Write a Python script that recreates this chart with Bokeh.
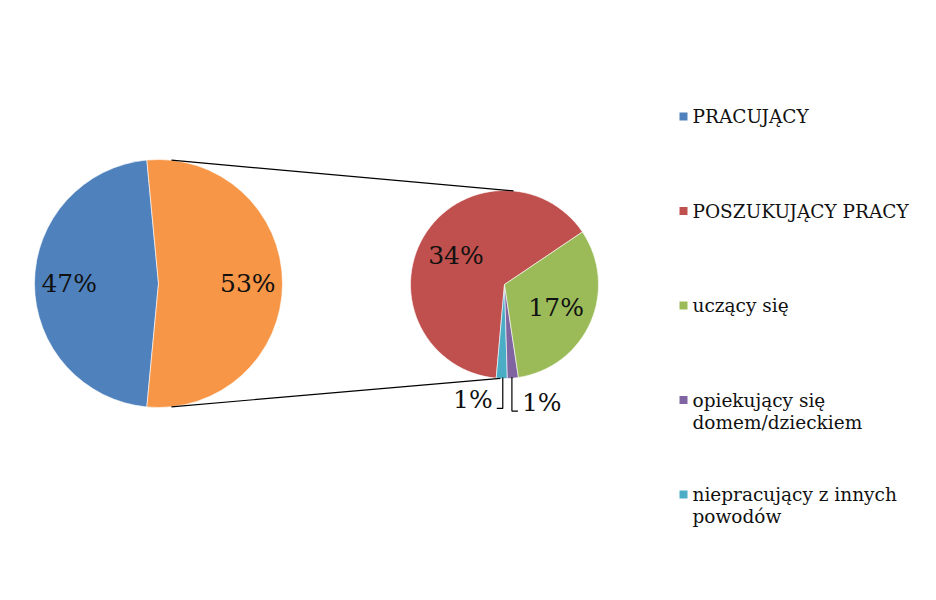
import numpy as np
from bokeh.plotting import figure
from bokeh.models import Range1d
from bokeh.embed import file_html
from bokeh.resources import INLINE
from bokeh.core.properties import value

# ---------------- data ----------------
main_labels = ["PRACUJĄCY", "NIEPRACUJĄCY"]
main_values = [47, 53]
main_colors = ["#4F81BD", "#F79646"]

sub_labels = ["POSZUKUJĄCY PRACY", "niepracujący z innych powodów",
              "opiekujący się domem/dzieckiem", "uczący się"]
sub_values = [34, 1, 1, 17]
sub_colors = ["#C0504D", "#4BACC6", "#8064A2", "#9BBB59"]

legend_lines = [["PRACUJĄCY"], ["POSZUKUJĄCY PRACY"], ["uczący się"],
                ["opiekujący się", "domem/dzieckiem"],
                ["niepracujący z innych", "powodów"]]
legend_colors = ["#4F81BD", "#C0504D", "#9BBB59", "#8064A2", "#4BACC6"]

# ---------------- layout ----------------
W, H = 920, 584
FONT = "DejaVu Serif"
p = figure(width=W, height=H, output_backend="svg", toolbar_location=None,
           x_range=Range1d(0, W), y_range=Range1d(0, H), min_border=0)
p.axis.visible = False
p.grid.visible = False
p.outline_line_color = None
p.background_fill_color = "white"

# left pie
c1 = (158, 301); r1 = 124
other_frac = main_values[1] / sum(main_values)
half = other_frac * np.pi
starts1 = [half, -half]
ends1 = [2 * np.pi - half, half]
p.wedge(x=[c1[0]] * 2, y=[c1[1]] * 2, radius=r1, start_angle=starts1, end_angle=ends1,
        fill_color=main_colors, line_color="white", line_width=0.6)
mids1 = [np.pi, 0.0]
p.text(x=[c1[0] + 0.72 * r1 * np.cos(a) for a in mids1],
       y=[c1[1] + 0.72 * r1 * np.sin(a) for a in mids1],
       text=[f"{v}%" for v in main_values], text_align="center", text_baseline="middle",
       text_font=value(FONT), text_font_size="25px", text_color="#111111")

# right pie
c2 = (504, 300); r2 = 94
start0 = np.deg2rad(34)
tot = sum(sub_values)
angs = start0 + np.concatenate([[0], np.cumsum(sub_values)]) / tot * 2 * np.pi
p.wedge(x=[c2[0]] * 4, y=[c2[1]] * 4, radius=r2, start_angle=angs[:-1], end_angle=angs[1:],
        fill_color=sub_colors, line_color="white", line_width=0.6)
mids2 = (angs[:-1] + angs[1:]) / 2

# connector lines
a_l, a_r_top, a_r_bot = np.deg2rad(84), np.deg2rad(84.5), np.deg2rad(-92.5)
p.line([c1[0] + r1 * np.cos(a_l), c2[0] + r2 * np.cos(a_r_top)],
       [c1[1] + r1 * np.sin(a_l), c2[1] + r2 * np.sin(a_r_top)], line_color="black", line_width=1.2)
p.line([c1[0] + r1 * np.cos(-a_l), c2[0] + r2 * np.cos(a_r_bot)],
       [c1[1] + r1 * np.sin(-a_l), c2[1] + r2 * np.sin(a_r_bot)], line_color="black", line_width=1.2)

# big labels in right pie
big = [0, 3]
p.text(x=[c2[0] + 0.6 * r2 * np.cos(mids2[i]) for i in big],
       y=[c2[1] + 0.6 * r2 * np.sin(mids2[i]) for i in big],
       text=[f"{sub_values[i]}%" for i in big], text_align="center", text_baseline="middle",
       text_font=value(FONT), text_font_size="25px", text_color="#111111")

# small labels with leader lines
for i, side, drop in [(1, -1, 31), (2, 1, 34)]:
    ex = c2[0] + r2 * np.cos(mids2[i]) - 1 * side
    ey = c2[1] + r2 * np.sin(mids2[i]) + 1
    by = ey - drop
    p.line([ex, ex, ex + 6 * side], [ey, by, by], line_color="black", line_width=1.2)
    p.text(x=[ex + 10 * side], y=[by + 9], text=[f"{sub_values[i]}%"],
           text_align="right" if side < 0 else "left", text_baseline="middle",
           text_font=value(FONT), text_font_size="25px", text_color="#111111")

# legend
lx, ly0, lstep, lline = 683, 468, 94.5, 22
for k, (lines, col) in enumerate(zip(legend_lines, legend_colors)):
    y = ly0 - k * lstep
    p.rect(x=[lx], y=[y], width=8, height=8, fill_color=col, line_color=None)
    for j, t in enumerate(lines):
        p.text(x=[lx + 9], y=[y - j * lline], text=[t], text_align="left", text_baseline="middle",
               text_font=value(FONT), text_font_size="18.5px", text_color="#111111")

open("out.html", "w").write(file_html(p, INLINE))
